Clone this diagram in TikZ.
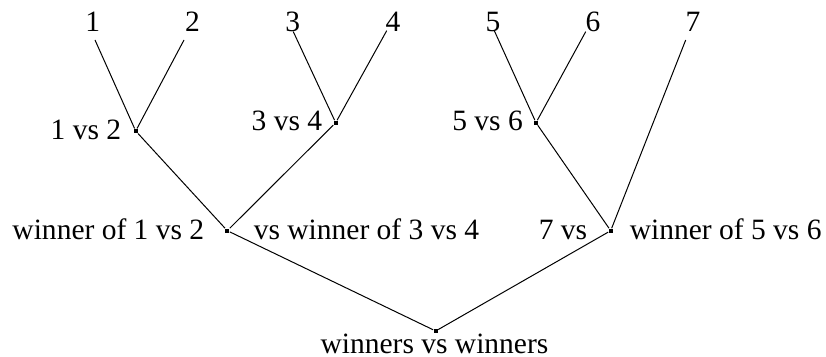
\documentclass[tikz,border=0pt]{standalone}
\usepackage{fontspec}
\setmainfont{Liberation Serif}
\begin{document}
\begin{tikzpicture}[x=0.4pt,y=-0.4pt,
  every node/.style={inner sep=0pt,font=\fontsize{11.8}{14}\selectfont},
  dot/.style={fill,minimum size=1.6pt}]
  \useasboundingbox (0,0) rectangle (826,357);
  % players
  \node[anchor=base] (p1) at (92.8,31.7) {1}; \node[anchor=base] (p2) at (192.5,31.7) {2};
  \node[anchor=base] (p3) at (292.7,31.7) {3}; \node[anchor=base] (p4) at (393,31.7) {4};
  \node[anchor=base] (p5) at (493,31.7) {5}; \node[anchor=base] (p6) at (593,31.7) {6};
  \node[anchor=base] (p7) at (693,31.7) {7};
  \coordinate (e1) at (95,40); \coordinate (e2) at (184,40);
  \coordinate (e3) at (293.3,31.7); \coordinate (e4) at (386.7,30.7);
  \coordinate (e5) at (494.3,30.7); \coordinate (e6) at (585.7,31.7);
  \coordinate (e7) at (685.7,40);
  % games
  \node[dot] (g12) at (135.7,131) {}; \node[dot] (g34) at (335.7,122.7) {};
  \node[dot] (g56) at (536,122.7) {};
  \node[dot] (w14) at (227.3,230.7) {}; \node[dot] (w57) at (610.7,230.7) {};
  \node[dot] (fin) at (435.7,331) {};
  \draw (e1)--(g12)--(e2); \draw (e3)--(g34)--(e4); \draw (e5)--(g56)--(e6);
  \draw (g12)--(w14)--(g34); \draw (g56)--(w57)--(e7);
  \draw (w14)--(fin)--(w57);
  % labels
  \node[anchor=base east] (t12) at (121.7,139.5) {1 vs 2};
  \node[anchor=base east] (t34) at (322.7,130.7) {3 vs 4};
  \node[anchor=base east] (t56) at (523.3,130.7) {5 vs 6};
  \node[anchor=base west] (ta) at (12,239.3) {winner of 1 vs 2};
  \node[anchor=base west] (tb) at (253.3,239.3) {vs winner of 3 vs 4};
  \node[anchor=base west] (tc) at (538.3,239.3) {7 vs};
  \node[anchor=base west] (td) at (629.3,239.3) {winner of 5 vs 6};
  \node[anchor=base] (tfin) at (434.5,354) {winners vs winners};
\end{tikzpicture}
\end{document}
